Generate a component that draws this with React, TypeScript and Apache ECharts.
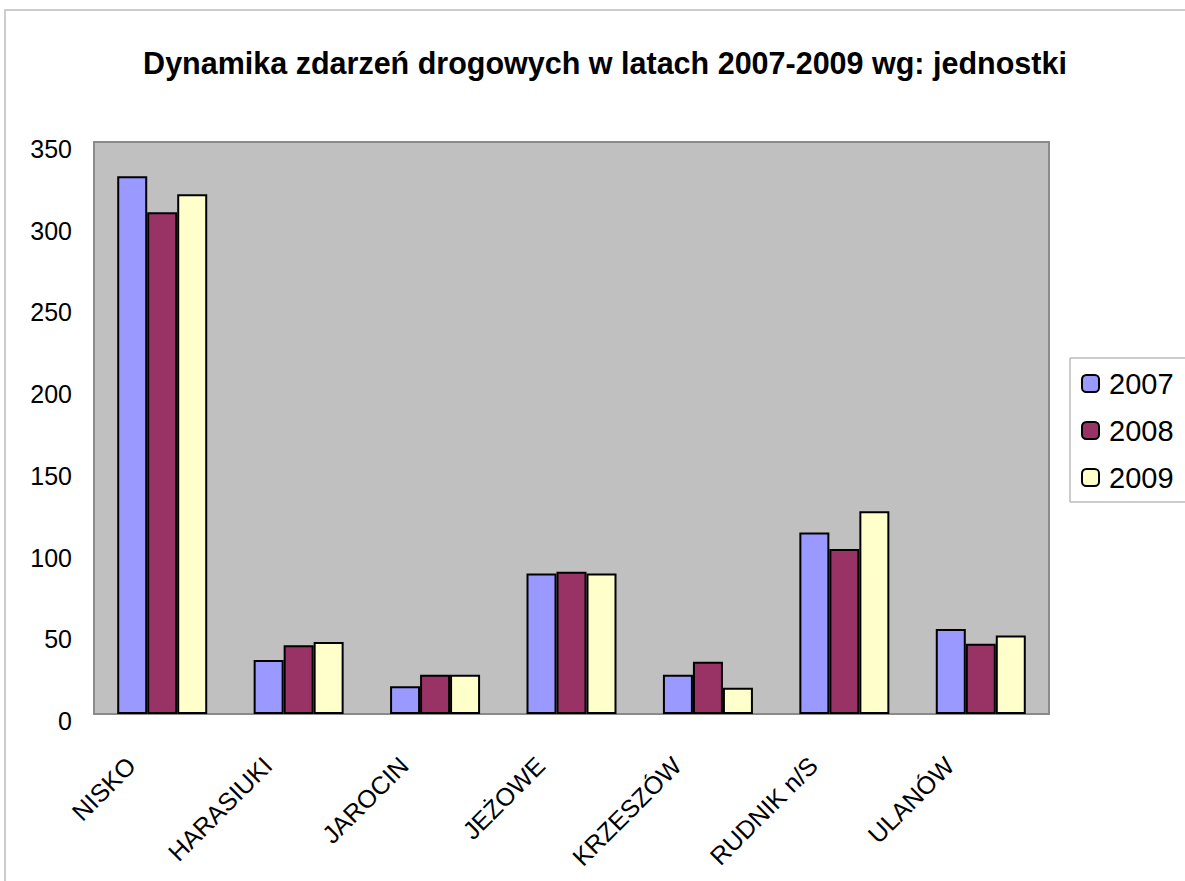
import React, { useEffect, useRef } from "react";
import * as echarts from "echarts";

const categories = ["NISKO", "HARASIUKI", "JAROCIN", "JEŻOWE", "KRZESZÓW", "RUDNIK n/S", "ULANÓW"];
const years = ["2007", "2008", "2009"];
const values2007 = [329, 33, 17, 86, 24, 111, 52];
const values2008 = [307, 42, 24, 87, 32, 101, 43];
const values2009 = [318, 44, 24, 86, 16, 124, 48];
const colors = ["#9999FF", "#993366", "#FFFFCC"];
const titleText = "Dynamika zdarzeń drogowych w latach 2007-2009 wg: jednostki";

export default function App() {
  const ref = useRef<HTMLDivElement>(null);
  useEffect(() => {
    if (!ref.current) return;
    const chart = echarts.init(ref.current, undefined, { renderer: "svg" });
    const seriesValues = [values2007, values2008, values2009];
    chart.setOption({
      animation: false,
      backgroundColor: "#ffffff",
      textStyle: { fontFamily: "Liberation Sans" },
      title: {
        text: titleText,
        left: 600,
        textAlign: "center",
        top: 42,
        textStyle: { fontSize: 30.5, fontWeight: "bold", color: "#000", fontFamily: "Liberation Sans" },
      },
      graphic: [
        {
          type: "rect",
          shape: { x: 5, y: 10, width: 1200, height: 900 },
          style: { fill: "none", stroke: "#bdbdbd", lineWidth: 1.5 },
          silent: true,
        },
      ],
      legend: {
        orient: "vertical",
        left: 1070,
        top: 358,
        padding: [11, 60, 10, 11],
        itemWidth: 17,
        itemHeight: 17,
        itemGap: 18,
        borderColor: "#9a9a9a",
        borderWidth: 1,
        backgroundColor: "#ffffff",
        textStyle: { fontSize: 29, color: "#000", fontFamily: "Liberation Sans", padding: [0, 0, 0, 5] },
        data: years,
      },
      grid: {
        left: 94,
        top: 142,
        right: 136,
        bottom: 167,
        show: true,
        backgroundColor: "#C0C0C0",
        borderColor: "#8a8a8a",
        borderWidth: 2,
      },
      xAxis: {
        type: "category",
        data: categories,
        axisLine: { show: true, lineStyle: { color: "#8a8a8a", width: 2 } },
        axisTick: { show: false },
        axisLabel: {
          rotate: 45,
          interval: 0,
          margin: 16,
          fontSize: 25,
          color: "#000",
          fontFamily: "Liberation Sans",
          padding: [0, 44, 0, 0],
        },
      },
      yAxis: {
        type: "value",
        min: 0,
        max: 350,
        interval: 50,
        axisLine: { show: false },
        axisTick: { show: false },
        splitLine: { show: false },
        axisLabel: {
          margin: 22,
          color: "#000",
          formatter: "{v|{value}}",
          rich: {
            v: { fontSize: 25, color: "#000", fontFamily: "Liberation Sans", padding: [14, 0, 0, 0] },
          },
        },
      },
      series: years.map((y, i) => ({
        name: y,
        type: "bar",
        data: seriesValues[i],
        barWidth: 30,
        barGap: "0%",
        itemStyle: { color: colors[i], borderColor: "#000", borderWidth: 2 },
      })),
    });
    return () => chart.dispose();
  }, []);
  return (
    <div
      ref={ref}
      style={{ position: "fixed", left: 0, top: 0, width: 1185, height: 881 }}
    />
  );
}
